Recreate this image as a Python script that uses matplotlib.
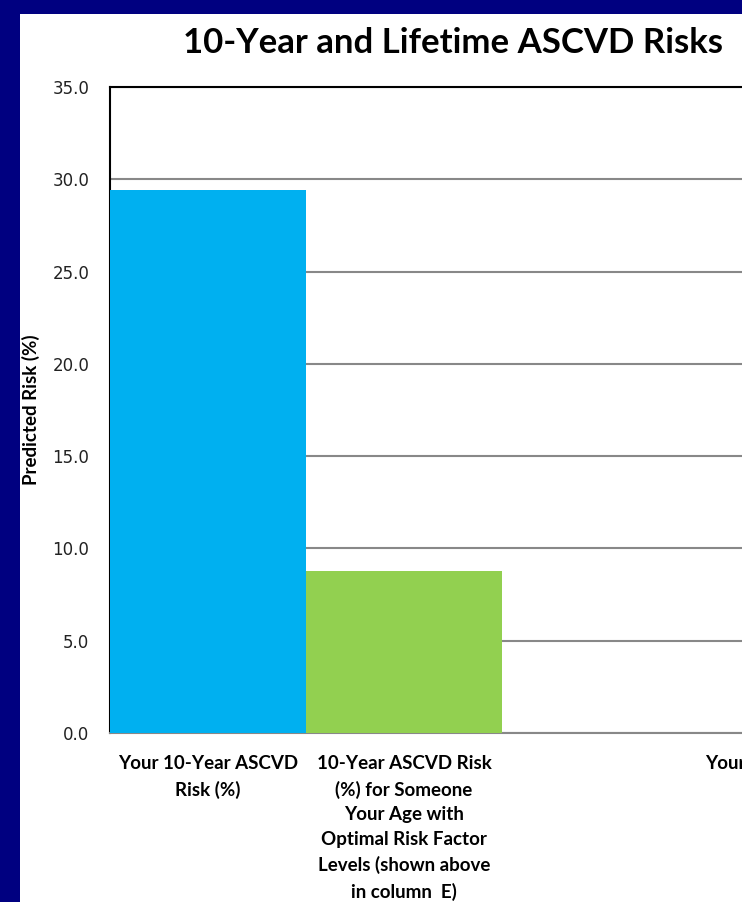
import numpy as np
import matplotlib.pyplot as plt
from matplotlib.patches import Rectangle

# chart data
categories = [
    "Your 10-Year ASCVD\nRisk (%)",
    "10-Year ASCVD Risk\n(%) for Someone\nYour Age with\nOptimal Risk Factor\nLevels (shown above\nin column  E)",
    "",
    "Your Lifetime ASCVD\nRisk (%)",
]
risk_values = [29.4, 8.8, np.nan, np.nan]
bar_colors = ["#00B0F0", "#92D050", "#00B0F0", "#00B0F0"]
y_ticks = [0, 5, 10, 15, 20, 25, 30, 35]

W, H = 742, 902
fig = plt.figure(figsize=(W / 100, H / 100), dpi=100)
fig.patch.set_facecolor("#000080")
# white panel inside the navy border
fig.patches.append(Rectangle((20 / W, 0), 1, (H - 14) / H, transform=fig.transFigure,
                             facecolor="white", edgecolor="none", zorder=-10))

# axes extends past the right edge, the original picture is cropped there
ax = fig.add_axes([110 / W, (H - 733) / H, 4 * 196 / W, 646 / H])
ax.set_facecolor("white")
x = np.arange(len(categories))
heights = [0 if np.isnan(v) else v for v in risk_values]
ax.bar(x, heights, width=1.0, color=bar_colors, zorder=3)

ax.set_xlim(-0.5, len(categories) - 0.5)
ax.set_ylim(0, 35)
ax.set_yticks(y_ticks)
ax.set_yticklabels([f"{v:.1f}" for v in y_ticks], fontfamily="DejaVu Sans",
                   fontsize=12, color="#222222")
ax.tick_params(axis="y", length=0, pad=15)
ax.set_xticks(x)
ax.set_xticklabels(categories, fontfamily="Lato", fontweight="bold", fontsize=13.5,
                   linespacing=1.55, va="top")
ax.tick_params(axis="x", length=0, pad=16)

ax.grid(axis="y", color="#888888", linewidth=1.5, zorder=1)
ax.set_axisbelow(True)
for side in ["left", "top"]:
    ax.spines[side].set_color("black")
    ax.spines[side].set_linewidth(1.5)
ax.spines["right"].set_visible(False)
ax.spines["bottom"].set_color("#888888")
ax.spines["bottom"].set_linewidth(1.5)

ax.set_ylabel("Predicted Risk (%)", fontfamily="Lato", fontweight="bold", fontsize=13.5,
              labelpad=9)

fig.text(453 / W, 1 - 43 / H, "10-Year and Lifetime ASCVD Risks", fontfamily="Lato",
         fontweight="bold", fontsize=25, ha="center", va="center")

fig.savefig("out.png", dpi=100, facecolor=fig.get_facecolor())
